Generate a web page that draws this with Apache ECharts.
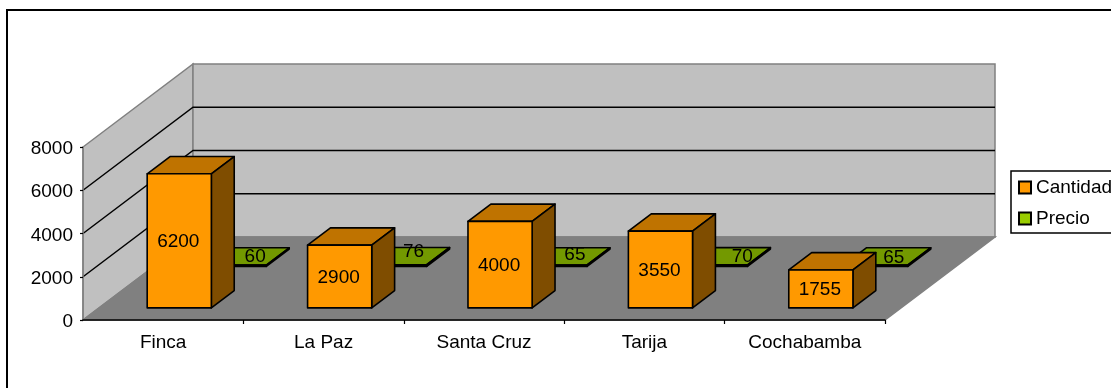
<!DOCTYPE html>
<html>
<head>
<meta charset="utf-8">
<style>html,body{margin:0;padding:0;background:#fff;overflow:hidden}#chart{width:1111px;height:388px}</style>
<script src="https://cdn.jsdelivr.net/npm/echarts@6/dist/echarts.min.js"></script>
</head>
<body>
<div id="chart"></div>
<script>
// Quantities and prices per origin
const categories = ['Finca', 'La Paz', 'Santa Cruz', 'Tarija', 'Cochabamba'];
const cantidad = [6200, 2900, 4000, 3550, 1755];
const precio = [60, 76, 65, 70, 65];
const valueTicks = [0, 2000, 4000, 6000, 8000];

// Oblique projection of the chart box: full depth moves a point this far
const DEPTH_X = 110;
const DEPTH_Y = 83;
const BAR_SHARE = 0.4; // column width as a share of one category band
const ROW_CANTIDAD = [0.146, 0.354];
const ROW_PRECIO = [0.646, 0.854];
const FONT_FAMILY = '"Liberation Sans", Arial, sans-serif';
const FONT = '19px ' + FONT_FAMILY;
const EDGE = 1.6;
// Small hand placement of the price labels above their thin columns
const PRECIO_LABEL_SHIFT = [[0, 0], [-2, -4], [-1, -1], [6, 1], [-3, 2]];

function project(api, cat, val, shift, depth) {
  const p = api.coord([cat, val]);
  return [p[0] + shift + depth * DEPTH_X, p[1] - depth * DEPTH_Y];
}

function poly(points, fill) {
  return {
    type: 'polygon',
    shape: { points },
    style: { fill, stroke: '#000', lineWidth: EDGE, lineJoin: 'round' }
  };
}

// One oblique column: the top and right faces are darker shades of the front
function column(api, row, colors) {
  const cat = api.value(0), val = api.value(1);
  const half = api.size([1, 0])[0] * BAR_SHARE / 2;
  const pt = (s, v, d) => project(api, cat, v, s * half, d);
  const [f, b] = row;
  return [
    poly([pt(-1, val, f), pt(-1, val, b), pt(1, val, b), pt(1, val, f)], colors.top),
    poly([pt(1, 0, f), pt(1, 0, b), pt(1, val, b), pt(1, val, f)], colors.side),
    poly([pt(-1, 0, f), pt(1, 0, f), pt(1, val, f), pt(-1, val, f)], colors.front)
  ];
}

function valueText(x, y, text) {
  return {
    type: 'text',
    style: { x, y, text, font: FONT, fill: '#000', align: 'center', verticalAlign: 'middle' }
  };
}

function renderCantidad(params, api) {
  const cat = api.value(0), val = api.value(1);
  const faces = column(api, ROW_CANTIDAD, { front: '#FF9900', top: '#BF7300', side: '#7F4D00' });
  const top = project(api, cat, val, -1, ROW_CANTIDAD[0]);
  const bottom = project(api, cat, 0, -1, ROW_CANTIDAD[0]);
  faces.push(valueText(top[0], (top[1] + bottom[1]) / 2 + 1, String(val)));
  return { type: 'group', children: faces };
}

function renderPrecio(params, api) {
  const cat = api.value(0), val = api.value(1);
  const faces = column(api, ROW_PRECIO, { front: '#4D6600', top: '#739900', side: '#4D6600' });
  const anchor = project(api, cat, val, 0, ROW_PRECIO[1]);
  const shift = PRECIO_LABEL_SHIFT[cat];
  faces.push(valueText(anchor[0] - 2 + shift[0], anchor[1] + 8.5 + shift[1], String(val)));
  return { type: 'group', children: faces };
}

// Side wall, back wall, floor and the gridlines that run across both walls
function renderWalls(params, api) {
  const band = api.size([1, 0])[0];
  const last = categories.length - 1;
  const maxV = valueTicks[valueTicks.length - 1];
  const o = api.coord([0, 0]);
  const left = o[0] - band / 2;
  const right = api.coord([last, 0])[0] + band / 2;
  const top = api.coord([0, maxV])[1];
  const base = o[1];
  const bx = left + DEPTH_X, rx = right + DEPTH_X;
  const by = base - DEPTH_Y, ty = top - DEPTH_Y;
  const wall = { stroke: '#808080', lineWidth: 1.5 };
  const children = [
    { type: 'polygon', shape: { points: [[left, top], [bx, ty], [bx, by], [left, base]] }, style: { fill: '#C0C0C0', ...wall } },
    { type: 'polygon', shape: { points: [[bx, ty], [rx, ty], [rx, by], [bx, by]] }, style: { fill: '#C0C0C0', ...wall } },
    { type: 'polygon', shape: { points: [[left, base], [right, base], [rx, by], [bx, by]] }, style: { fill: '#808080', ...wall } }
  ];
  valueTicks.slice(1, -1).forEach(v => {
    const y = api.coord([0, v])[1];
    children.push({
      type: 'polyline',
      shape: { points: [[left, y], [bx, y - DEPTH_Y], [rx, y - DEPTH_Y]] },
      style: { fill: 'none', stroke: '#000', lineWidth: 1.5 }
    });
  });
  return { type: 'group', children };
}

const chart = echarts.init(document.getElementById('chart'), null, { renderer: 'canvas' });
chart.setOption({
  animation: false,
  backgroundColor: '#fff',
  textStyle: { fontFamily: FONT_FAMILY },
  graphic: [{
    type: 'rect',
    z: -10,
    silent: true,
    shape: { x: 7, y: 10, width: 1200, height: 500 },
    style: { fill: 'none', stroke: '#000', lineWidth: 2 }
  }],
  grid: { left: 83, right: 226, top: 147, bottom: 68 },
  xAxis: {
    type: 'category',
    data: categories,
    z: 6,
    axisLine: { lineStyle: { color: '#000', width: 1.5 } },
    axisTick: { show: true, interval: i => i > 0, length: 4, lineStyle: { color: '#000', width: 1.2 } },
    axisLabel: { color: '#000', fontSize: 19, margin: 13, interval: 0, fontFamily: FONT_FAMILY },
    splitLine: { show: false }
  },
  yAxis: {
    type: 'value',
    min: 0,
    max: 8000,
    interval: 2000,
    z: 6,
    axisLine: { show: true, lineStyle: { color: '#808080', width: 1.5 } },
    axisTick: { show: true, length: 3, lineStyle: { color: '#000', width: 1.2 } },
    axisLabel: {
      color: '#000',
      fontSize: 19,
      margin: 10,
      formatter: v => '{n|' + v + '}',
      rich: { n: { fontSize: 19, color: '#000', padding: [4, 0, 0, 0], fontFamily: FONT_FAMILY } },
      fontFamily: FONT_FAMILY
    },
    splitLine: { show: false }
  },
  legend: {
    left: 1011,
    top: 171,
    orient: 'vertical',
    data: ['Cantidad', 'Precio'],
    icon: 'rect',
    itemWidth: 12,
    itemHeight: 12,
    itemGap: 12,
    padding: [7, 30, 5, 7],
    borderColor: '#000',
    borderWidth: 1.5,
    backgroundColor: '#fff',
    textStyle: { color: '#000', fontSize: 19, fontFamily: FONT_FAMILY }
  },
  series: [
    {
      name: 'Walls',
      type: 'custom',
      z: 1,
      silent: true,
      renderItem: renderWalls,
      data: [[0, 0]],
      encode: { x: 0, y: 1 }
    },
    {
      name: 'Cantidad',
      type: 'custom',
      z: 4,
      renderItem: renderCantidad,
      itemStyle: { color: '#FF9900', borderColor: '#000', borderWidth: 1.5 },
      data: cantidad.map((v, i) => [i, v]),
      encode: { x: 0, y: 1 }
    },
    {
      name: 'Precio',
      type: 'custom',
      z: 3,
      renderItem: renderPrecio,
      itemStyle: { color: '#99CC00', borderColor: '#000', borderWidth: 1.5 },
      data: precio.map((v, i) => [i, v]),
      encode: { x: 0, y: 1 }
    }
  ]
});
</script>
</body>
</html>
